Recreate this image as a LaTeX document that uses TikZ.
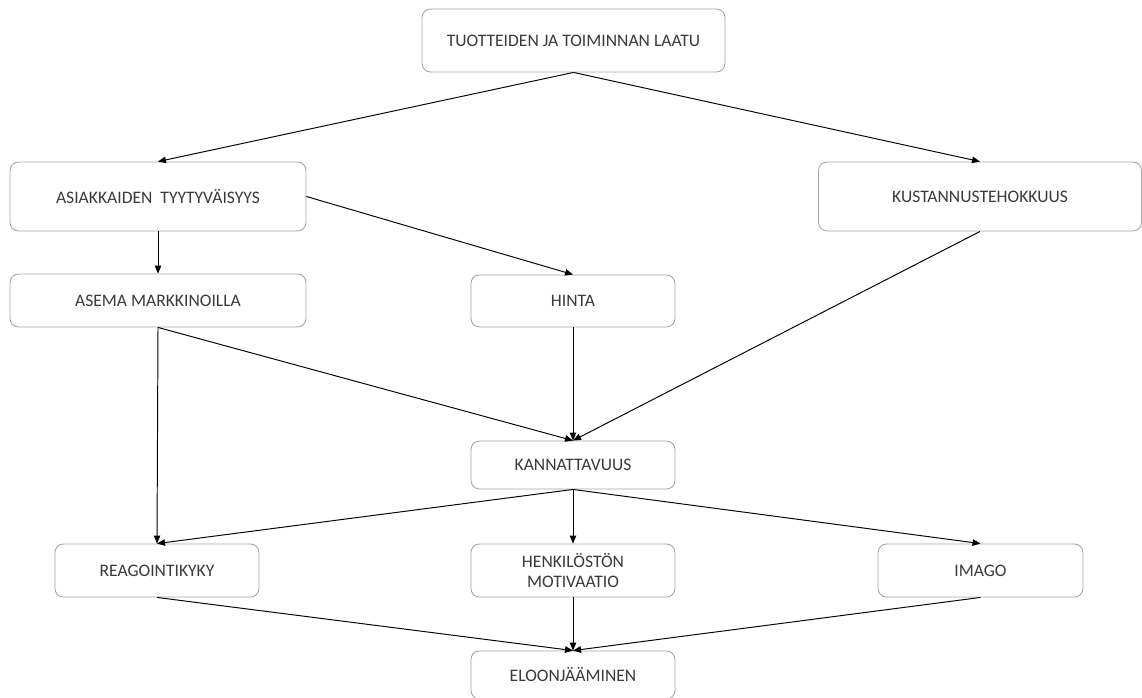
\documentclass[tikz,border=0pt]{standalone}
\usepackage{fontspec}
\setmainfont{Carlito}
\usepackage{tikz}
\usetikzlibrary{arrows.meta}
\definecolor{boxline}{HTML}{A6A6A6}
\definecolor{boxtext}{HTML}{3A3A3A}

\begin{document}
\begin{tikzpicture}[x=0.02cm,y=-0.02cm,->,>={Triangle[length=1.6mm,width=1.3mm]},line width=0.55pt,
	main node/.style={rectangle, rounded corners=0.17cm, draw=boxline, line width=0.5pt, fill=white, text=boxtext, align=center, font=\fontsize{10}{11.5}\selectfont, minimum width=4.08cm, minimum height=1.06cm}]
			\useasboundingbox (0,0) rectangle (1142,697);
			% Nodes
			\node[main node, minimum width=6.06cm, minimum height=1.26cm] (1) at (573.5,40.5) {TUOTTEIDEN JA TOIMINNAN LAATU};
			\node[main node, minimum width=5.92cm, minimum height=1.38cm] (2) at (158,196.5) {ASIAKKAIDEN \ TYYTYVÄISYYS};
			\node[main node, minimum width=6.46cm, minimum height=1.38cm] (3) at (980,196.5) {KUSTANNUSTEHOKKUUS};
			\node[main node, minimum width=5.92cm] (4) at (158,300.5) {ASEMA MARKKINOILLA};
			\node[main node, minimum height=1.04cm] (5) at (573,301) {HINTA};
			\node[main node, minimum height=0.96cm] (6) at (573,465) {KANNATTAVUUS};
			\node[main node] (7) at (157,570.5) {REAGOINTIKYKY};
			\node[main node] (8) at (573,570.5) {HENKILÖSTÖN\\MOTIVAATIO};
			\node[main node, minimum width=4.1cm] (9) at (980.5,570.5) {IMAGO};
			\node[main node, minimum height=0.96cm] (10) at (573,675) {ELOONJÄÄMINEN};
			
			\path
			(1.south) edge (2.north)
			          edge (3.north)
			(2.south) edge (4.north)
			(2.east)  edge (5.north)
			(3.south) edge (6.north)
			(4.south) edge (6.north)
			          edge (7.north)
			(5.south) edge (6.north)
			
			(6.south) edge (7.north)
			          edge (8.north)
			          edge (9.north)
			
			(7.south) edge (10.north)
			(8.south) edge (10.north)
			(9.south) edge (10.north);
			
		\end{tikzpicture}
\end{document}
